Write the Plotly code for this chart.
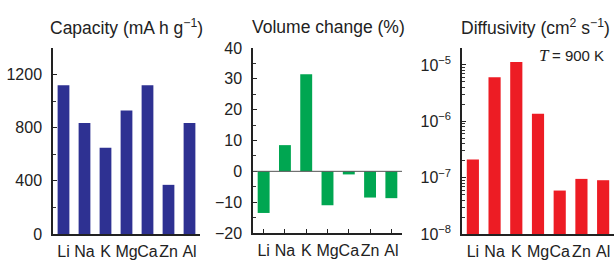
import plotly.graph_objects as go

elements = ["Li", "Na", "K", "Mg", "Ca", "Zn", "Al"]
capacity = [1120, 835, 650, 930, 1120, 370, 835]
volume_change = [-13.5, 8.5, 31.5, -11, -1, -8.5, -8.7]
diffusivity = [2.0e-7, 6.0e-6, 1.12e-5, 1.35e-6, 4.9e-8, 8.5e-8, 8.0e-8]

titles = ["Capacity (mA h g<sup>−1</sup>)", "Volume change (%)", "Diffusivity (cm<sup>2</sup> s<sup>−1</sup>)"]
cap_ticks = [0, 400, 800, 1200]
vol_ticks = [-20, -10, 0, 10, 20, 30, 40]
diff_ticks = [1e-8, 1e-7, 1e-6, 1e-5]
diff_ticktext = ["10<sup>−8</sup>", "10<sup>−7</sup>", "10<sup>−6</sup>", "10<sup>−5</sup>"]
diff_minor = [m * 10.0 ** e for e in (-8, -7, -6, -5) for m in (2, 3, 4, 5, 6, 7, 8, 9)]

W, H = 614, 261
BLUE = "#2e3192"
GREEN = "#00a651"
RED = "#ed1c24"
FONT = "Liberation Sans, Arial, sans-serif"

def px(x):
    return x / W

def py(y):
    return (H - y) / H

fig = go.Figure()
fig.add_trace(go.Bar(x=elements, y=capacity, marker_color=BLUE, marker_line_width=0,
                     width=0.56, xaxis="x", yaxis="y"))
fig.add_trace(go.Bar(x=elements, y=volume_change, marker_color=GREEN, marker_line_width=0,
                     width=0.56, xaxis="x2", yaxis="y2"))
fig.add_trace(go.Bar(x=elements, y=diffusivity, marker_color=RED, marker_line_width=0,
                     width=0.56, xaxis="x3", yaxis="y3", base=1e-8))

tickfont = dict(family=FONT, size=16, color="#222")
common_x = dict(showgrid=False, zeroline=False, showline=True, linecolor="#222", linewidth=1.5,
                range=[-0.5, 6.5], tickfont=tickfont, fixedrange=True, tickangle=0,
                ticklabelstandoff=2, automargin=False)
common_y = dict(showgrid=False, zeroline=False, showline=True, linecolor="#222", linewidth=1.5,
                tickfont=tickfont, ticks="inside", ticklen=4, tickwidth=1, tickcolor="#222",
                ticklabelstandoff=6, fixedrange=True, automargin=False)
minor_style = dict(ticks="inside", ticklen=3, tickwidth=0.8, tickcolor="#333")

yb = [py(234), py(48)]
fig.update_layout(
    width=W, height=H,
    margin=dict(l=0, r=0, t=0, b=0),
    paper_bgcolor="white", plot_bgcolor="white",
    showlegend=False,
    font=dict(family=FONT, size=16, color="#222"),
    xaxis=dict(domain=[px(53), px(200)], anchor="y", ticks="", **common_x),
    yaxis=dict(domain=yb, anchor="x", range=[0, 1400], tickvals=cap_ticks,
               minor=dict(dtick=200, **minor_style), **common_y),
    xaxis2=dict(domain=[px(253), px(402)], anchor="y2", ticks="inside", ticklen=4, tickcolor="#222",
                tickwidth=1, **common_x),
    yaxis2=dict(domain=[py(233), py(48)], anchor="x2", range=[-20, 40], tickvals=vol_ticks,
                minor=dict(dtick=5, **minor_style), **common_y),
    xaxis3=dict(domain=[px(462), px(614)], anchor="y3", ticks="", **common_x),
    yaxis3=dict(domain=yb, anchor="x3", type="log", range=[-8, -4.7], tickvals=diff_ticks,
                ticktext=diff_ticktext,
                minor=dict(tickvals=diff_minor, showgrid=False, **minor_style), **common_y),
)

# zero line for the volume change panel
fig.add_shape(type="line", xref="x2 domain", yref="y2", x0=0, x1=1, y0=0, y1=0,
              line=dict(color="#555", width=1))

title_font = dict(family=FONT, size=17.5, color="#222")
fig.add_annotation(x=px(126), y=py(27), xref="paper", yref="paper", text=titles[0], showarrow=False,
                   xanchor="center", yanchor="middle", font=title_font)
fig.add_annotation(x=px(328), y=py(27), xref="paper", yref="paper", text=titles[1], showarrow=False,
                   xanchor="center", yanchor="middle", font=title_font)
fig.add_annotation(x=px(459), y=py(27), xref="paper", yref="paper", text=titles[2], showarrow=False,
                   xanchor="left", yanchor="middle", font=title_font)

fig.add_annotation(x=px(552), y=py(55), xref="paper", yref="paper", text="<i>T</i>",
                   showarrow=False, xanchor="right", yanchor="middle",
                   font=dict(family="Liberation Serif, Times New Roman, serif", size=17, color="#222"))
fig.add_annotation(x=px(550), y=py(55), xref="paper", yref="paper", text="= 900 K",
                   showarrow=False, xanchor="left", yanchor="middle",
                   font=dict(family=FONT, size=15, color="#222"))

fig.write_html("out.html", config={"displayModeBar": False},
               post_script="document.body.style.margin='0';document.body.style.overflow='hidden';")
